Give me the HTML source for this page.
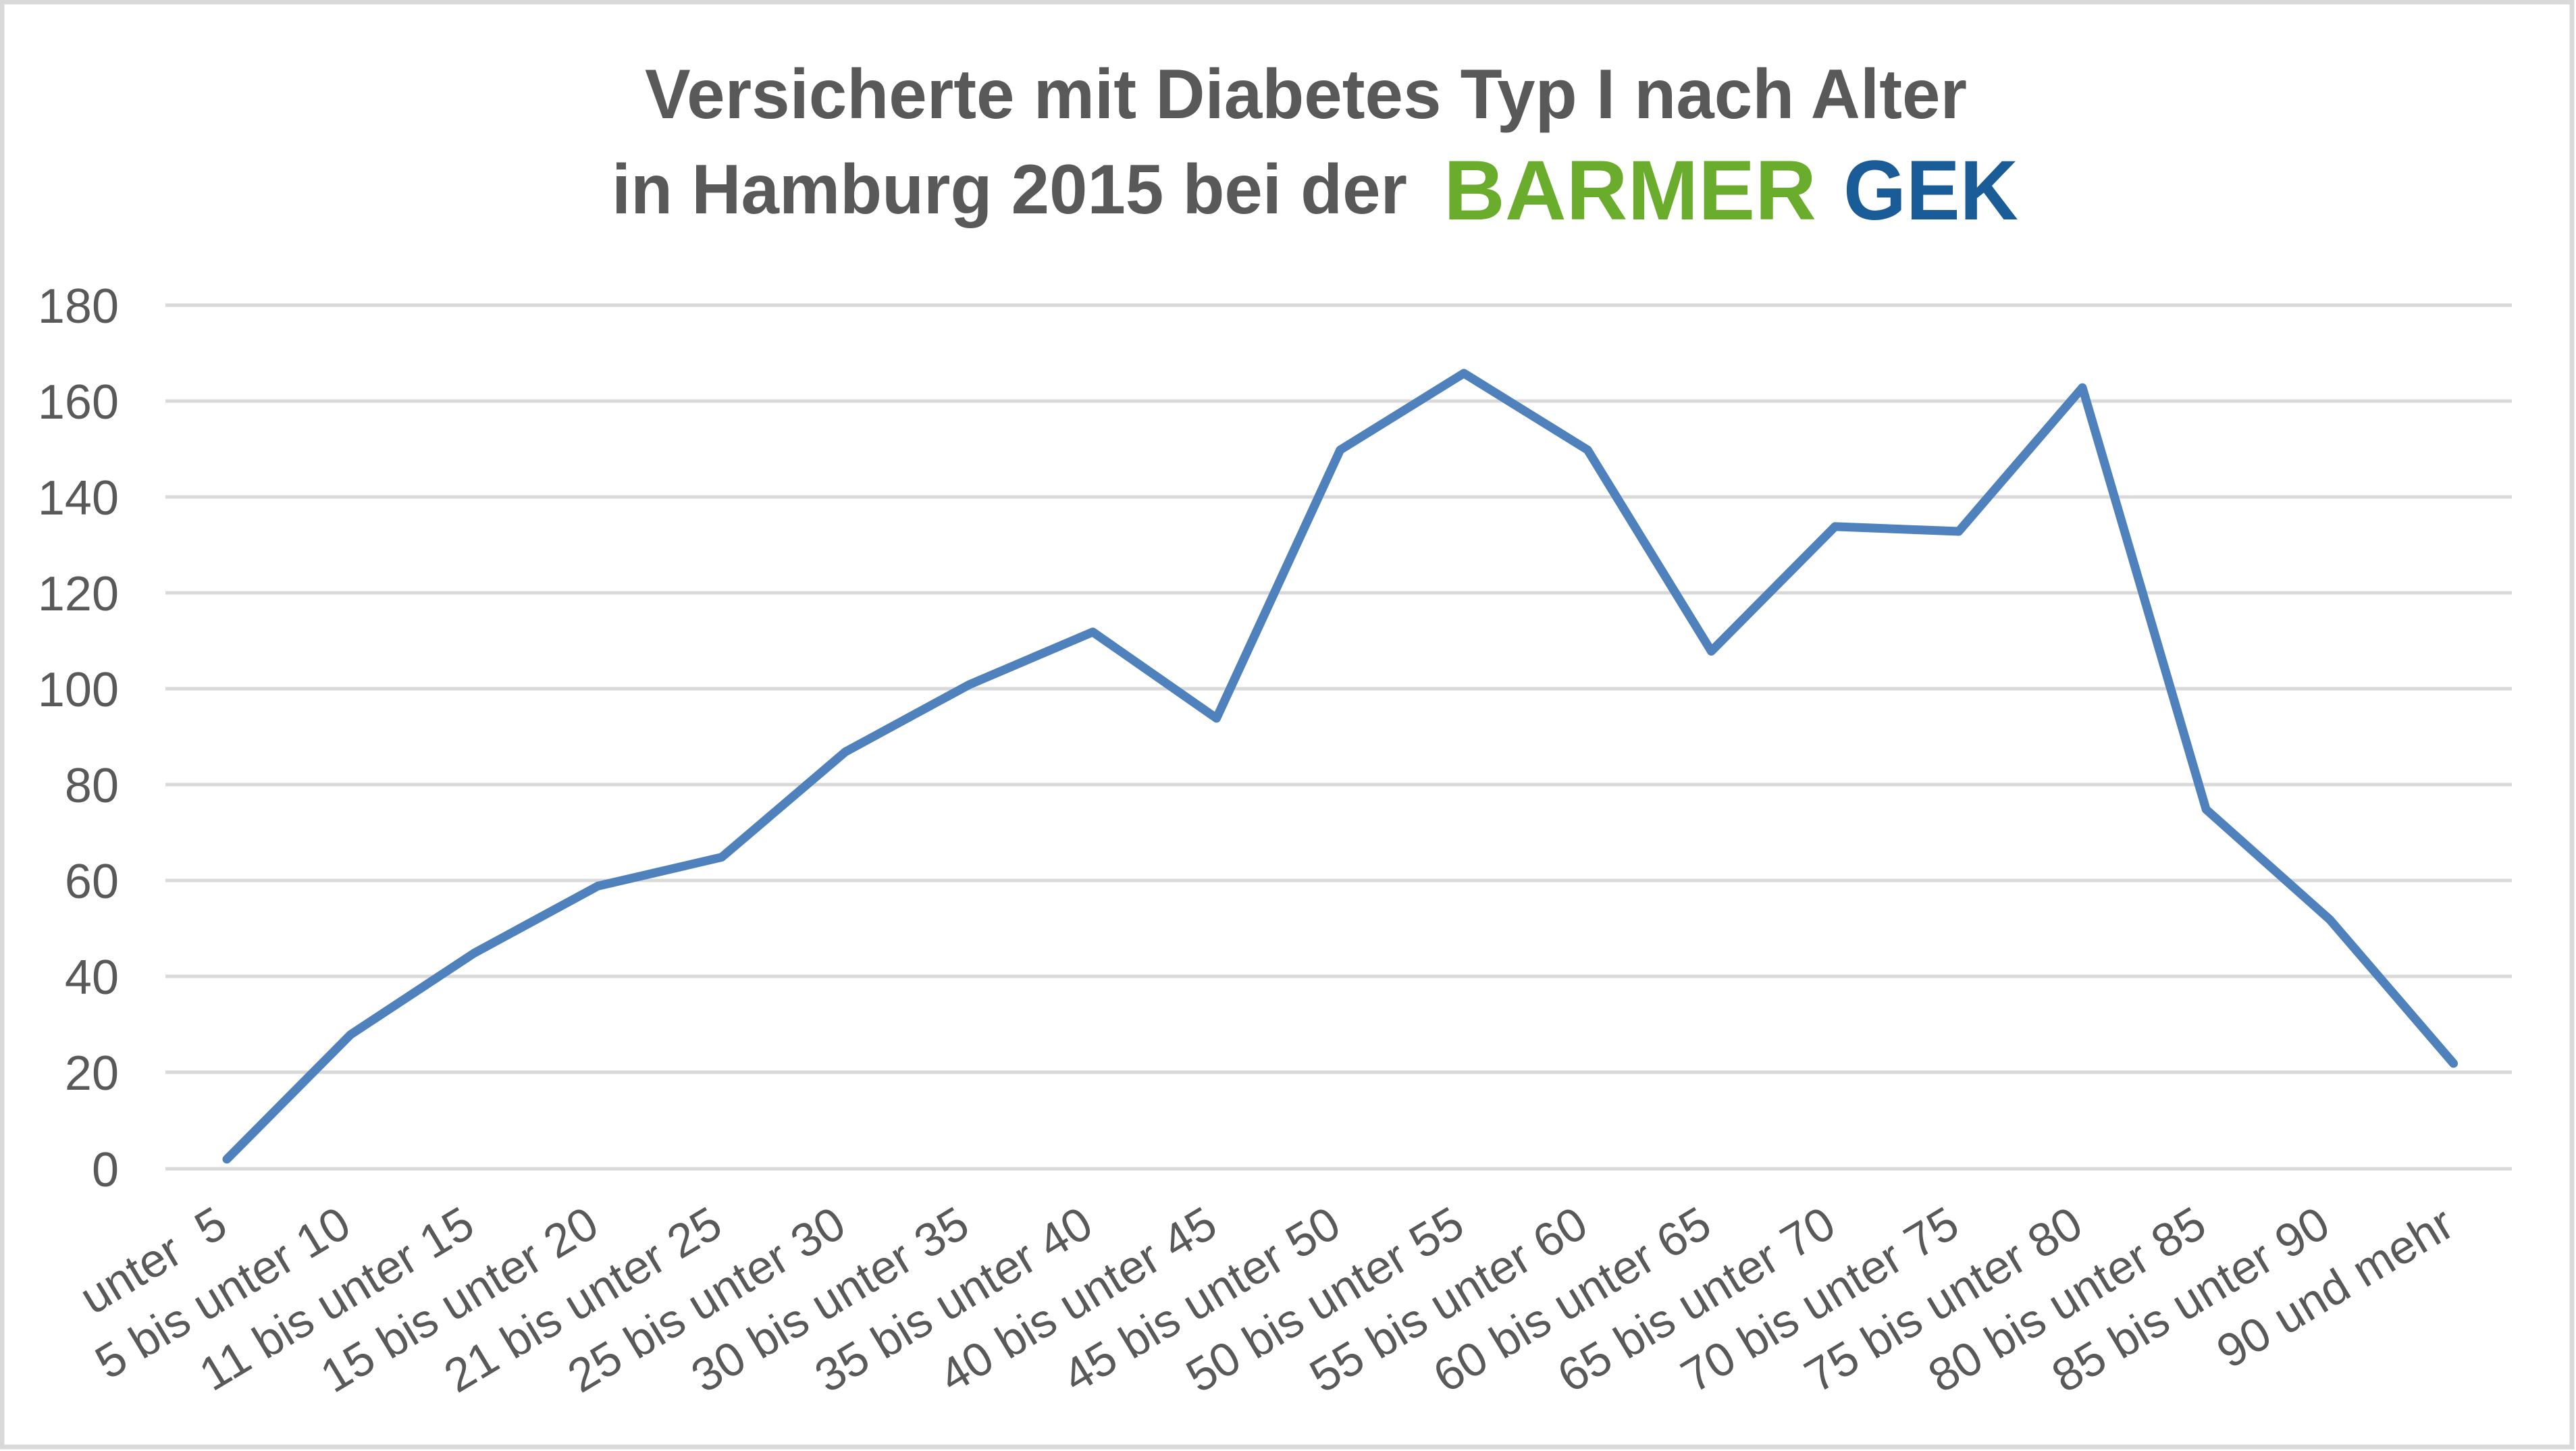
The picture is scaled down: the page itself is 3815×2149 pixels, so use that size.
<!DOCTYPE html>
<html><head><meta charset="utf-8"><style>
html,body{margin:0;padding:0;background:#fff;}
svg{display:block;}
</style></head><body>
<svg width="3815" height="2149" viewBox="0 0 3815 2149" xmlns="http://www.w3.org/2000/svg" font-family="'Liberation Sans', sans-serif">
<rect x="3" y="3" width="3806" height="2140" fill="#fff" stroke="#d9d9d9" stroke-width="7"/>
<g font-weight="bold" fill="#595959" font-size="104">
<text x="955" y="175" textLength="1958" lengthAdjust="spacingAndGlyphs">Versicherte mit Diabetes Typ I nach Alter</text>
<text x="906" y="316" textLength="1178" lengthAdjust="spacingAndGlyphs">in Hamburg 2015 bei der</text>
</g>
<text x="2138" y="325" font-weight="bold" font-size="125" fill="#6aac2b" textLength="552" lengthAdjust="spacingAndGlyphs">BARMER</text>
<text x="2730" y="325" font-weight="bold" font-size="125" fill="#1a5c98" textLength="259" lengthAdjust="spacingAndGlyphs">GEK</text>
<g stroke="#d9d9d9" stroke-width="5">
<line x1="245" x2="3720" y1="452" y2="452"/>
<line x1="245" x2="3720" y1="594" y2="594"/>
<line x1="245" x2="3720" y1="736" y2="736"/>
<line x1="245" x2="3720" y1="878" y2="878"/>
<line x1="245" x2="3720" y1="1020" y2="1020"/>
<line x1="245" x2="3720" y1="1162" y2="1162"/>
<line x1="245" x2="3720" y1="1304" y2="1304"/>
<line x1="245" x2="3720" y1="1446" y2="1446"/>
<line x1="245" x2="3720" y1="1588" y2="1588"/>
<line x1="245" x2="3720" y1="1731" y2="1731"/>
</g>
<g fill="#595959" font-size="72" text-anchor="end">
<text x="176" y="478">180</text>
<text x="176" y="620">160</text>
<text x="176" y="762">140</text>
<text x="176" y="904">120</text>
<text x="176" y="1046">100</text>
<text x="176" y="1188">80</text>
<text x="176" y="1330">60</text>
<text x="176" y="1472">40</text>
<text x="176" y="1614">20</text>
<text x="176" y="1757">0</text>
</g>
<polyline fill="none" stroke="#4f81bd" stroke-width="13" stroke-linejoin="round" stroke-linecap="round"
points="336,1716.8 519.2,1532.3 702.4,1411.5 885.6,1312.2 1068.8,1269.6 1252,1113.5 1435.2,1014.1 1618.4,936 1801.6,1063.8 1984.8,666.4 2168,552.8 2351.2,666.4 2534.4,964.5 2717.6,779.9 2900.8,787 3084,574.1 3267.2,1198.8 3450.4,1362 3633.6,1575"/>
<g fill="#595959" font-size="70" text-anchor="end">
<text transform="translate(341,1826) rotate(-31)">unter &#160;5</text>
<text transform="translate(524,1826) rotate(-31)">5 bis unter 10</text>
<text transform="translate(707,1826) rotate(-31)">11 bis unter 15</text>
<text transform="translate(891,1826) rotate(-31)">15 bis unter 20</text>
<text transform="translate(1074,1826) rotate(-31)">21 bis unter 25</text>
<text transform="translate(1257,1826) rotate(-31)">25 bis unter 30</text>
<text transform="translate(1440,1826) rotate(-31)">30 bis unter 35</text>
<text transform="translate(1623,1826) rotate(-31)">35 bis unter 40</text>
<text transform="translate(1807,1826) rotate(-31)">40 bis unter 45</text>
<text transform="translate(1990,1826) rotate(-31)">45 bis unter 50</text>
<text transform="translate(2173,1826) rotate(-31)">50 bis unter 55</text>
<text transform="translate(2356,1826) rotate(-31)">55 bis unter 60</text>
<text transform="translate(2539,1826) rotate(-31)">60 bis unter 65</text>
<text transform="translate(2723,1826) rotate(-31)">65 bis unter 70</text>
<text transform="translate(2906,1826) rotate(-31)">70 bis unter 75</text>
<text transform="translate(3089,1826) rotate(-31)">75 bis unter 80</text>
<text transform="translate(3272,1826) rotate(-31)">80 bis unter 85</text>
<text transform="translate(3455,1826) rotate(-31)">85 bis unter 90</text>
<text transform="translate(3639,1826) rotate(-31)">90 und mehr</text>
</g>
</svg>
</body></html>
